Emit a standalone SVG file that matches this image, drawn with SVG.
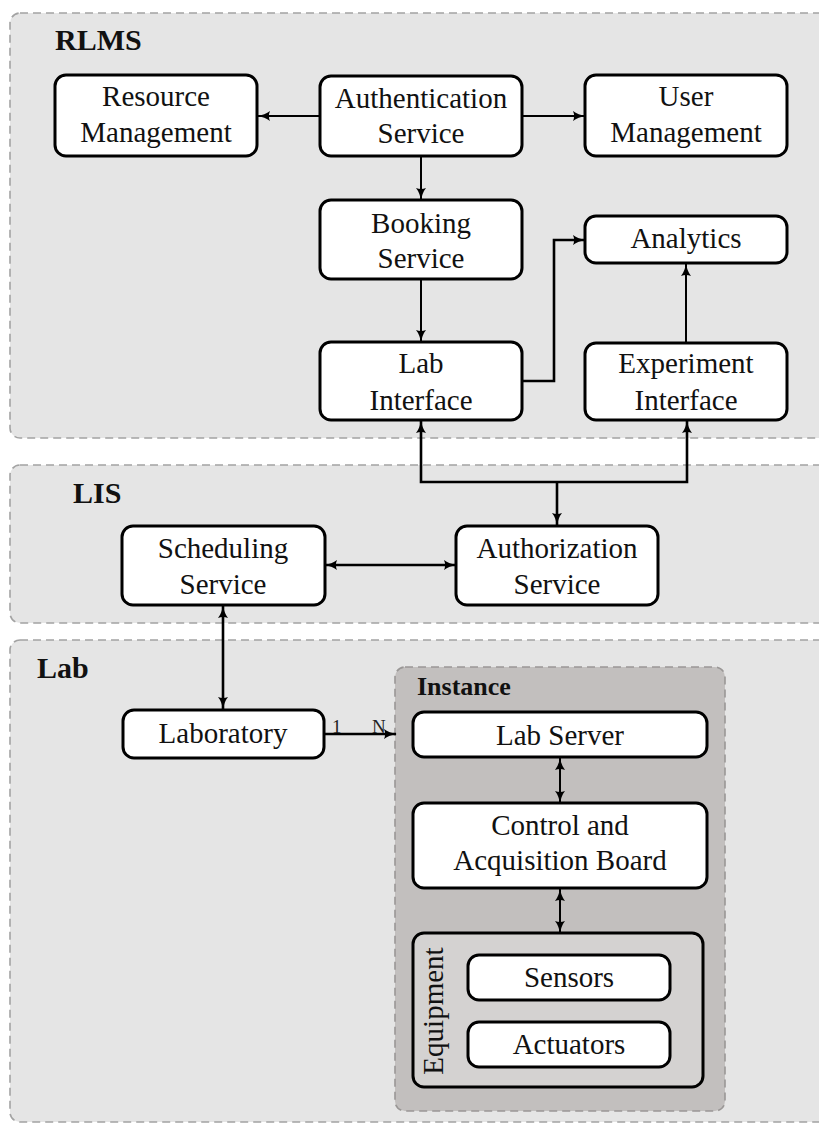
<svg xmlns="http://www.w3.org/2000/svg" width="819" height="1124" viewBox="0 0 819 1124">
<style>
.panel{fill:#e5e5e5;stroke:#a3a3a3;stroke-width:1.6;stroke-dasharray:8,5}
.inst{fill:#c2bfbe;stroke:#9a9796;stroke-width:1.6;stroke-dasharray:8,5}
.box{fill:#fff;stroke:#000;stroke-width:3}
.equip{fill:#d4d2d1;stroke:#000;stroke-width:3}
.t{font-family:"Liberation Serif","Times New Roman",serif;font-size:29px;fill:#111;text-anchor:middle}
.h{font-family:"Liberation Serif","Times New Roman",serif;font-size:30px;font-weight:bold;fill:#111}
.hi{font-family:"Liberation Serif","Times New Roman",serif;font-size:26px;font-weight:bold;fill:#111}
.m{font-family:"Liberation Serif","Times New Roman",serif;font-size:19px;fill:#222}
.c{fill:none;stroke:#000;stroke-width:2}
.ck{fill:none;stroke:#000;stroke-width:2.6}
</style>
<defs>
<marker id="ah" viewBox="0 0 13 11" refX="12" refY="5.5" markerWidth="13" markerHeight="11" markerUnits="userSpaceOnUse" orient="auto-start-reverse">
<path d="M0,0.5 Q5,4.5 13,5.5 Q5,6.5 0,10.5 Q2.2,5.5 0,0.5 Z" fill="#000"/>
</marker>
</defs>
<rect width="819" height="1124" fill="#fff"/>
<g id="panel-rlms">
<rect class="panel" x="10" y="13" width="830" height="425" rx="10"/>
<text class="h" x="55" y="50">RLMS</text>
</g>
<g id="panel-lis">
<rect class="panel" x="10" y="465" width="830" height="158" rx="10"/>
<text class="h" x="73" y="503">LIS</text>
</g>
<g id="panel-lab">
<rect class="panel" x="10" y="640" width="830" height="482" rx="10"/>
<text class="h" x="37" y="678">Lab</text>
</g>
<g id="panel-instance">
<rect class="inst" x="395" y="667" width="330" height="444" rx="10"/>
<text class="hi" x="417" y="695">Instance</text>
</g>
<g id="resource-management">
<rect class="box" x="55" y="75" width="202" height="81" rx="11"/>
<text class="t" x="156" y="106">Resource</text>
<text class="t" x="156" y="142">Management</text>
</g>
<g id="authentication-service">
<rect class="box" x="320" y="76" width="202" height="80" rx="11"/>
<text class="t" x="421" y="108">Authentication</text>
<text class="t" x="421" y="143">Service</text>
</g>
<g id="user-management">
<rect class="box" x="585" y="75" width="202" height="81" rx="11"/>
<text class="t" x="686" y="106">User</text>
<text class="t" x="686" y="142">Management</text>
</g>
<g id="booking-service">
<rect class="box" x="320" y="200" width="202" height="79" rx="11"/>
<text class="t" x="421" y="233">Booking</text>
<text class="t" x="421" y="268">Service</text>
</g>
<g id="analytics">
<rect class="box" x="585" y="216" width="202" height="47" rx="11"/>
<text class="t" x="686" y="248">Analytics</text>
</g>
<g id="lab-interface">
<rect class="box" x="320" y="342" width="202" height="78" rx="11"/>
<text class="t" x="421" y="373">Lab</text>
<text class="t" x="421" y="410">Interface</text>
</g>
<g id="experiment-interface">
<rect class="box" x="585" y="343" width="202" height="77" rx="11"/>
<text class="t" x="686" y="373">Experiment</text>
<text class="t" x="686" y="410">Interface</text>
</g>
<g id="scheduling-service">
<rect class="box" x="122" y="526" width="203" height="79" rx="11"/>
<text class="t" x="223" y="558">Scheduling</text>
<text class="t" x="223" y="594">Service</text>
</g>
<g id="authorization-service">
<rect class="box" x="456" y="526" width="202" height="79" rx="11"/>
<text class="t" x="557" y="558">Authorization</text>
<text class="t" x="557" y="594">Service</text>
</g>
<g id="laboratory">
<rect class="box" x="123" y="710" width="201" height="48" rx="11"/>
<text class="t" x="223" y="743">Laboratory</text>
</g>
<g id="lab-server">
<rect class="box" x="413" y="712" width="294" height="45" rx="11"/>
<text class="t" x="560" y="745">Lab Server</text>
</g>
<g id="control-board">
<rect class="box" x="413" y="803" width="294" height="85" rx="11"/>
<text class="t" x="560" y="835">Control and</text>
<text class="t" x="560" y="870">Acquisition Board</text>
</g>
<g id="equipment">
<rect class="equip" x="413" y="933" width="290" height="154" rx="11"/>
<text class="t" transform="translate(443,1011) rotate(-90)">Equipment</text>
</g>
<g id="sensors">
<rect class="box" x="468" y="955" width="202" height="45" rx="11"/>
<text class="t" x="569" y="987">Sensors</text>
</g>
<g id="actuators">
<rect class="box" x="468" y="1022" width="202" height="45" rx="11"/>
<text class="t" x="569" y="1054">Actuators</text>
</g>
<g id="connectors">
<line class="c" x1="320" y1="116" x2="258" y2="116" marker-end="url(#ah)"/>
<line class="c" x1="522" y1="116" x2="585" y2="116" marker-end="url(#ah)"/>
<line class="c" x1="421" y1="156" x2="421" y2="200" marker-end="url(#ah)"/>
<line class="c" x1="421" y1="279" x2="421" y2="342" marker-end="url(#ah)"/>
<path class="ck" d="M522,381 H554 V240 H585" marker-end="url(#ah)"/>
<line class="c" x1="686" y1="343" x2="686" y2="264" marker-end="url(#ah)"/>
<path class="ck" d="M421,421 V482 H687 V421" marker-start="url(#ah)" marker-end="url(#ah)"/>
<line class="ck" x1="557" y1="482" x2="557" y2="525" marker-end="url(#ah)"/>
<line class="ck" x1="325" y1="565" x2="456" y2="565" marker-start="url(#ah)" marker-end="url(#ah)"/>
<line class="ck" x1="223" y1="606" x2="223" y2="709" marker-start="url(#ah)" marker-end="url(#ah)"/>
<line class="ck" x1="324" y1="734" x2="396" y2="734" marker-end="url(#ah)"/>
<text class="m" x="332" y="733">1</text>
<text class="m" x="372" y="733">N</text>
<line class="c" x1="560" y1="758" x2="560" y2="803" marker-start="url(#ah)" marker-end="url(#ah)"/>
<line class="c" x1="560" y1="889" x2="560" y2="933" marker-start="url(#ah)" marker-end="url(#ah)"/>
</g>
</svg>
